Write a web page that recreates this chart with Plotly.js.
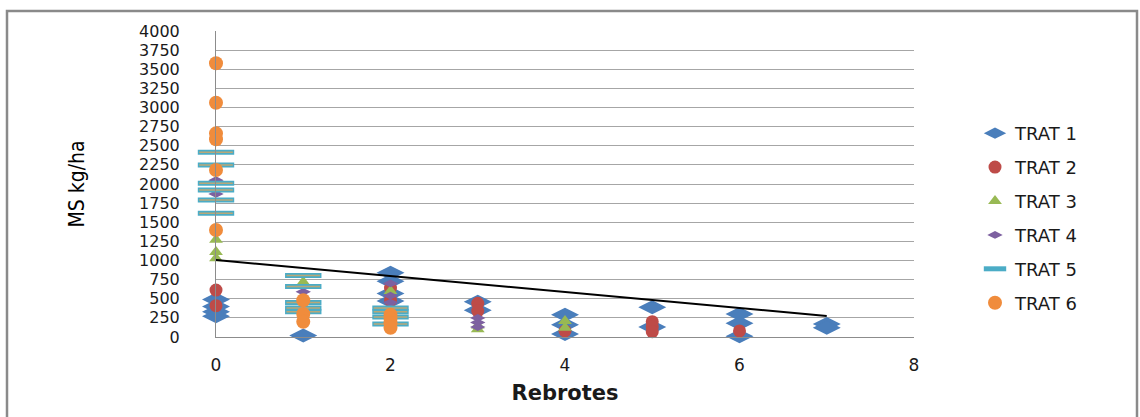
<!DOCTYPE html>
<html>
<head>
<meta charset="utf-8">
<script src="https://cdn.plot.ly/plotly-3.0.1.min.js"></script>
<style>html,body{margin:0;padding:0;background:#fff;}#chart{width:1140px;height:417px;}</style>
</head>
<body>
<div id="chart"></div>
<script>
// ---- data ----
const seriesNames = ["TRAT 1", "TRAT 2", "TRAT 3", "TRAT 4", "TRAT 5", "TRAT 6"];

const trat1X = [0, 0, 0, 0, 1, 2, 2, 2, 2, 3, 3, 4, 4, 4, 5, 5, 6, 6, 6, 7, 7];
const trat1Y = [490, 400, 330, 270, 20, 840, 730, 570, 470, 460, 350, 290, 160, 40, 390, 130, 300, 180, 10, 170, 120];

const trat2X = [0, 0, 2, 2, 3, 3, 4, 5, 5, 5, 6];
const trat2Y = [614, 409, 640, 480, 440, 340, 80, 200, 130, 70, 80];

const trat3X = [0, 0, 0, 1, 2, 3, 3, 4, 4];
const trat3Y = [1270, 1110, 1030, 720, 600, 150, 100, 210, 120];

const trat4X = [0, 0, 1, 2, 2, 2, 3, 3, 3];
const trat4Y = [2050, 1870, 590, 700, 540, 450, 250, 190, 130];

const trat5X = [0, 0, 0, 0, 0, 0, 1, 1, 1, 1, 1, 2, 2, 2, 2];
const trat5Y = [2414, 2248, 2009, 1921, 1791, 1617, 805, 660, 450, 380, 330, 380, 330, 260, 170];

const trat6X = [0, 0, 0, 0, 0, 0, 1, 1, 1, 2, 2, 2, 2];
const trat6Y = [3578, 3063, 2662, 2584, 2183, 1398, 480, 300, 200, 290, 240, 180, 120];

const trendX = [0, 7];
const trendY = [1005, 275];

const xTickVals = [0, 2, 4, 6, 8];
const yTickVals = [0, 250, 500, 750, 1000, 1250, 1500, 1750, 2000, 2250, 2500, 2750, 3000, 3250, 3500, 3750, 4000];
const xTitle = "Rebrotes";
const yTitle = "MS kg/ha";

// ---- traces ----
function pts(name, x, y, marker, group) {
  return {type: "scatter", mode: "markers", name: name, x: x, y: y, marker: marker,
          cliponaxis: false, legendgroup: group, hoverinfo: "x+y+name"};
}

const traces = [
  pts(seriesNames[0], trat1X, trat1Y, {symbol: "diamond-wide", size: 20, color: "#4A7EBB"}, "g1"),
  pts(seriesNames[1], trat2X, trat2Y, {symbol: "circle", size: 13, color: "#BE4B48"}, "g2"),
  pts(seriesNames[2], trat3X, trat3Y, {symbol: "triangle-up", size: 12, color: "#98B954"}, "g3"),
  pts(seriesNames[3], trat4X, trat4Y, {symbol: "diamond-wide", size: 11, color: "#7D60A0"}, "g4"),
  pts(seriesNames[4], trat5X, trat5Y, {symbol: "line-ew", size: 26, color: "#4BACC6", line: {color: "#4BACC6", width: 5}}, "g5"),
  Object.assign(pts(seriesNames[4], trat5X, trat5Y, {symbol: "line-ew", size: 24, color: "#B8A878", line: {color: "#B8A878", width: 1.5}}, "g5"), {showlegend: false}),
  pts(seriesNames[5], trat6X, trat6Y, {symbol: "circle", size: 14, color: "#F08C3C"}, "g6"),
  {type: "scatter", mode: "lines", x: trendX, y: trendY, line: {color: "#000000", width: 2},
   showlegend: false, hoverinfo: "skip", cliponaxis: false}
];

// plot-area pixel geometry
const L = 216, R = 914, T = 31, B = 337, W = 1140, H = 417;
const pw = R - L, ph = B - T;
const px = v => (v - L) / pw;
const py = v => (B - v) / ph;

const layout = {
  width: W, height: H,
  margin: {l: L, r: W - R, t: T, b: H - B, pad: 0},
  paper_bgcolor: "#ffffff", plot_bgcolor: "#ffffff",
  font: {family: "DejaVu Sans, sans-serif", color: "#1a1a1a"},
  showlegend: true,
  xaxis: {
    range: [0, 8], tickvals: xTickVals, ticktext: xTickVals.map(String),
    showgrid: false, zeroline: false, showline: true, linecolor: "#8c8c8c", linewidth: 1,
    ticks: "", ticklabelstandoff: 13, tickfont: {size: 17, family: "DejaVu Sans, sans-serif", color: "#1a1a1a"},
    title: {text: xTitle, standoff: 10, font: {size: 21, family: "DejaVu Sans, sans-serif", weight: "bold", color: "#1a1a1a"}},
    automargin: false, fixedrange: true
  },
  yaxis: {
    range: [0, 4000], tickvals: yTickVals, ticktext: yTickVals.map(String),
    showgrid: true, gridcolor: "#a6a6a6", gridwidth: 1,
    zeroline: false, showline: true, linecolor: "#8c8c8c", linewidth: 1,
    ticks: "", ticklabelstandoff: 32, tickfont: {size: 16, family: "DejaVu Sans, sans-serif", color: "#1a1a1a"},
    title: {text: yTitle, standoff: 48, font: {size: 21, family: "Liberation Sans Narrow, DejaVu Sans Condensed, sans-serif", color: "#000000"}},
    automargin: false, fixedrange: true
  },
  legend: {
    x: px(975), y: py(115), xanchor: "left", yanchor: "top",
    font: {size: 18, family: "DejaVu Sans, sans-serif", color: "#1a1a1a"},
    traceorder: "grouped", tracegroupgap: 7.5, itemsizing: "trace",
    bgcolor: "rgba(0,0,0,0)"
  },
  shapes: [{
    type: "rect", xref: "paper", yref: "paper",
    x0: px(7), x1: px(1137), y0: py(425), y1: py(11),
    line: {color: "#8a8a8a", width: 2.5}, fillcolor: "rgba(0,0,0,0)", layer: "below"
  }]
};

Plotly.newPlot("chart", traces, layout, {displayModeBar: false, staticPlot: true});
</script>
</body>
</html>
